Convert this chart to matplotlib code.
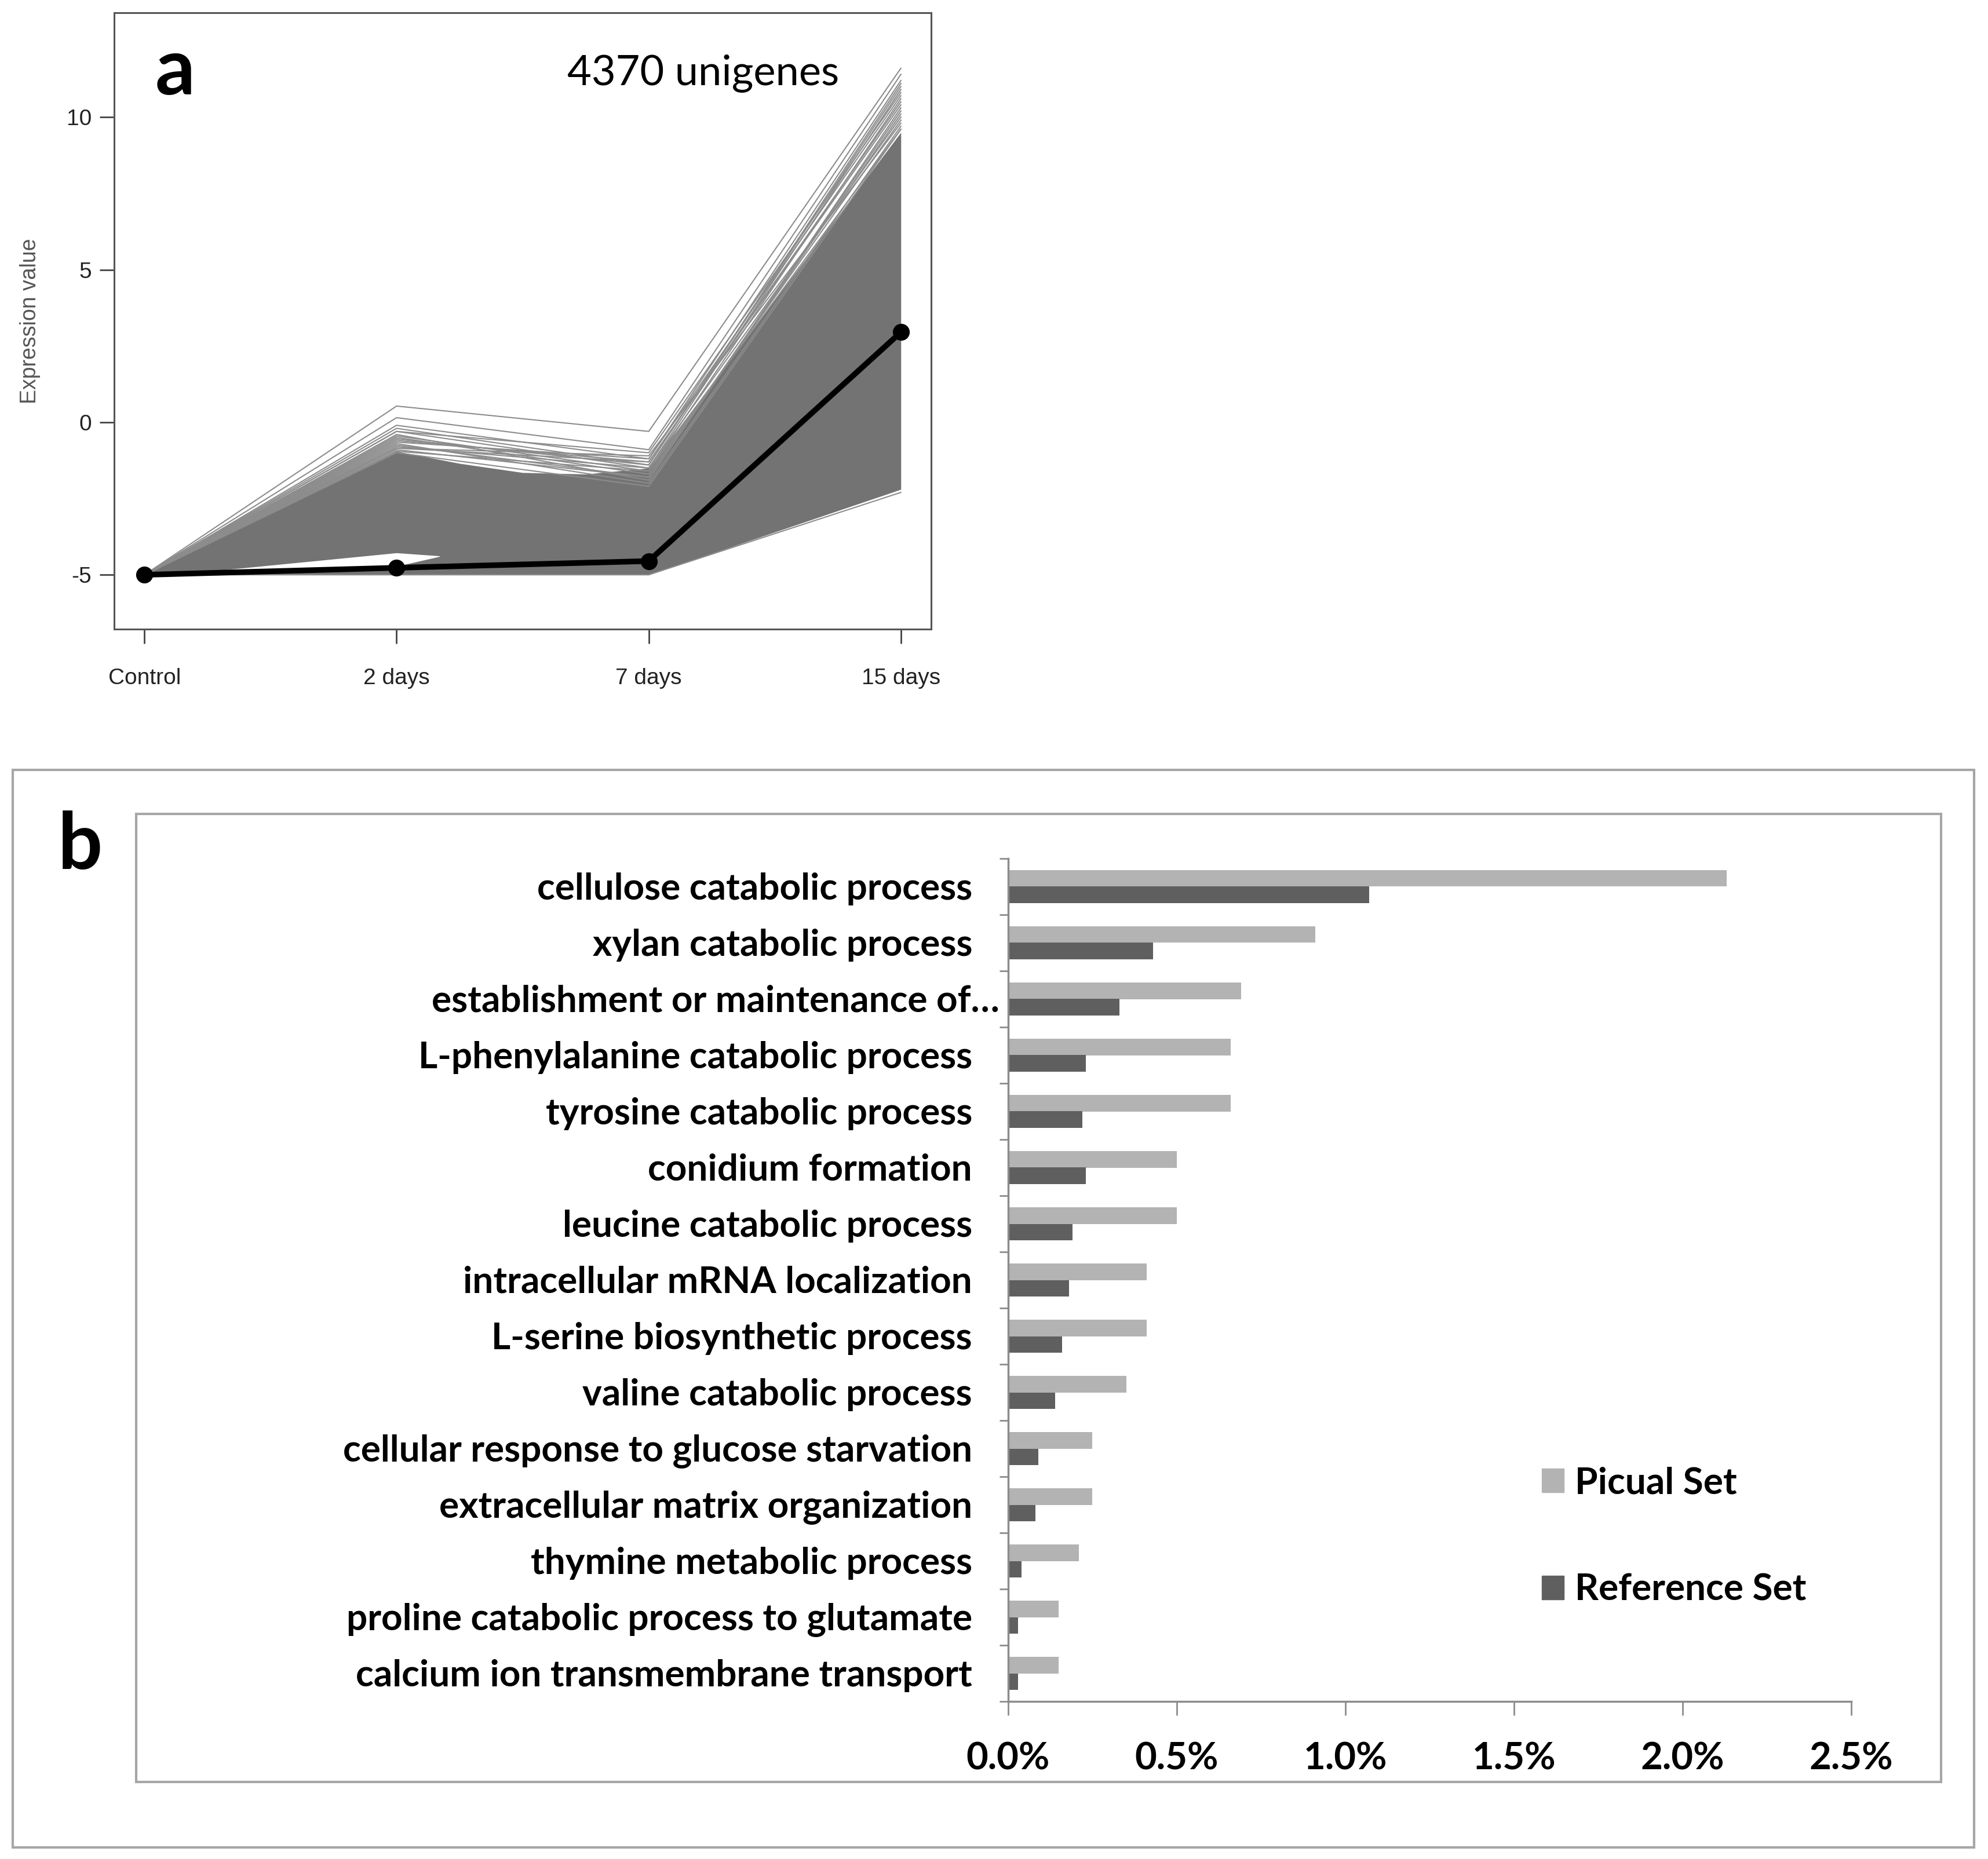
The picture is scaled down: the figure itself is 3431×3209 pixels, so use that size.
import numpy as np
import matplotlib
matplotlib.use("Agg")
import matplotlib.pyplot as plt
from matplotlib.patches import Rectangle, Patch

W, H = 3431, 3209

# ---- panel a data ----
time_labels = ["Control", "2 days", "7 days", "15 days"]
centroid = [-5.0, -4.77, -4.55, 2.95]
# dense grey band of the 4370 profiles (upper / lower edge)
band_x = [0, 1, 1.25, 1.5, 1.75, 2, 3]
band_upper = [-5.0, -0.95, -1.35, -1.65, -1.7, -1.5, 9.5]
band_lower = [-5.0, -5.0, -5.0, -5.0, -5.0, -5.0, -2.2]
# sparse gap near the bottom between Control and 2 days
gap_x = [0.15, 1, 1.17]
gap_upper = [-4.97, -4.28, -4.38]
gap_lower = [-4.99, -4.72, -4.40]
# outlying individual profiles above the band
outliers = [
    [-5, 0.53, -0.3, 11.6],
    [-5, 0.15, -0.9, 11.4],
    [-5, -0.1, -1.2, 11.2],
    [-5, -0.2, -1.4, 11.0],
    [-5, -0.3, -1.0, 10.8],
    [-5, -0.3, -1.5, 10.9],
    [-5, -0.4, -1.9, 10.3],
    [-5, -0.45, -1.6, 10.6],
    [-5, -0.5, -1.7, 9.9],
    [-5, -0.55, -1.4, 11.1],
    [-5, -0.6, -1.3, 10.4],
    [-5, -0.65, -1.2, 10.7],
    [-5, -0.7, -2.0, 9.7],
    [-5, -0.75, -1.8, 10.2],
    [-5, -0.8, -1.5, 10.0],
    [-5, -0.85, -1.1, 9.8],
    [-5, -0.85, -1.3, 10.5],
    [-5, -0.9, -1.8, 10.1],
    [-5, -0.95, -1.6, 9.6],
    [-5, -1.0, -2.1, 9.6],
    [-5, -5.0, -5.0, -2.3],
]

# ---- panel b data ----
categories = [
    "cellulose catabolic process",
    "xylan catabolic process",
    "establishment or maintenance of\u2026",
    "L-phenylalanine catabolic process",
    "tyrosine catabolic process",
    "conidium formation",
    "leucine catabolic process",
    "intracellular mRNA localization",
    "L-serine biosynthetic process",
    "valine catabolic process",
    "cellular response to glucose starvation",
    "extracellular matrix organization",
    "thymine metabolic process",
    "proline catabolic process to glutamate",
    "calcium ion transmembrane transport",
]
picual = [2.13, 0.91, 0.69, 0.66, 0.66, 0.50, 0.50, 0.41, 0.41, 0.35,
          0.25, 0.25, 0.21, 0.15, 0.15]
reference = [1.07, 0.43, 0.33, 0.23, 0.22, 0.23, 0.19, 0.18, 0.16, 0.14,
             0.09, 0.08, 0.04, 0.03, 0.03]
xticks_b = [0.0, 0.5, 1.0, 1.5, 2.0, 2.5]

CAL = ["Lato", "DejaVu Sans"]
RFONT = ["Liberation Sans", "DejaVu Sans"]


def rect(x0, y0, x1, y1):
    return [x0 / W, 1 - y1 / H, (x1 - x0) / W, (y1 - y0) / H]


fig = plt.figure(figsize=(W / 100, H / 100), dpi=100)
fig.patch.set_facecolor("white")

# ================= panel a =================
axa = fig.add_axes(rect(197, 22, 1607, 1086))
axa.fill_between(band_x, band_lower, band_upper, color="#737373", lw=0, zorder=1)
for prof in outliers:
    axa.plot(range(4), prof, color="#8c8c8c", lw=1.5, zorder=3)
axa.fill_between(gap_x, gap_lower, gap_upper, color="white", lw=0, zorder=2)
axa.plot(range(4), centroid, color="black", lw=7, marker="o", ms=20, zorder=5)
axa.set_xlim(-0.12, 3.12)
axa.set_ylim(-6.78, 13.42)
axa.set_xticks(range(4))
axa.set_xticklabels(time_labels, family=RFONT, fontsize=28, color="#222222")
axa.set_yticks([-5, 0, 5, 10])
axa.set_yticklabels(["-5", "0", "5", "10"], family=RFONT, fontsize=28, color="#222222")
axa.tick_params(axis="both", length=18, width=2, color="#444444")
axa.tick_params(axis="x", pad=30)
axa.tick_params(axis="y", pad=10)
for s in axa.spines.values():
    s.set_color("#555555")
    s.set_linewidth(2.2)
axa.set_ylabel("Expression value", family=RFONT, fontsize=27, color="#555555", labelpad=32)
fig.text(268 / W, 1 - 163 / H, "a", family=CAL, fontweight="bold", fontsize=98,
         ha="left", va="baseline")
fig.text(979 / W, 1 - 147 / H, "4370 unigenes", family=CAL, fontsize=52,
         ha="left", va="baseline")

# ================= panel b =================
fig.add_artist(Rectangle((22 / W, 1 - 3189 / H), (3407 - 22) / W, (3189 - 1329) / H,
                         transform=fig.transFigure, fill=False, ec="#a6a6a6", lw=3))
fig.add_artist(Rectangle((235 / W, 1 - 3076 / H), (3350 - 235) / W, (3076 - 1405) / H,
                         transform=fig.transFigure, fill=False, ec="#a6a6a6", lw=3))
fig.text(100 / W, 1 - 1500 / H, "b", family=CAL, fontweight="bold", fontsize=98,
         ha="left", va="baseline")

axb = fig.add_axes(rect(1740, 1482, 3195, 2937))
y = np.arange(len(categories))
bh = 0.29
axb.barh(y - bh / 2, picual, height=bh, color="#b3b3b3", label="Picual Set", zorder=2)
axb.barh(y + bh / 2, reference, height=bh, color="#5f5f5f", label="Reference Set", zorder=2)
axb.set_ylim(len(categories) - 0.5, -0.5)
axb.set_xlim(0, 2.5)
axb.set_yticks(np.arange(-0.5, len(categories)))
axb.set_yticklabels([])
axb.set_xticks(xticks_b)
axb.set_xticklabels([f"{v:.1f}%" for v in xticks_b], family=CAL, fontweight="bold", fontsize=47)
axb.tick_params(axis="y", length=11, width=2, color="#8c8c8c")
axb.tick_params(axis="x", length=17, width=2, color="#8c8c8c", pad=33)
for side in ["top", "right"]:
    axb.spines[side].set_visible(False)
for side in ["left", "bottom"]:
    axb.spines[side].set_color("#8c8c8c")
    axb.spines[side].set_linewidth(2.5)

ytr = axb.get_yaxis_transform()
for i, lab in enumerate(categories):
    off = -62 / 1455 if "\u2026" not in lab else -15 / 1455
    axb.text(off, i + 0.04, lab, transform=ytr, ha="right", va="center", family=CAL,
             fontweight="bold", fontsize=46)

handles = [Patch(color="#b3b3b3", label="Picual Set"),
           Patch(color="#5f5f5f", label="Reference Set")]
axb.legend(handles=handles, loc="upper left", bbox_to_anchor=(2661 / W, 1 - 2531 / H),
           bbox_transform=fig.transFigure, frameon=False, borderpad=0, borderaxespad=0,
           handlelength=0.6, handleheight=0.6, handletextpad=0.3, labelspacing=2.0,
           prop={"family": CAL, "weight": "bold", "size": 46})

fig.savefig("out.png", dpi=100, facecolor="white")
